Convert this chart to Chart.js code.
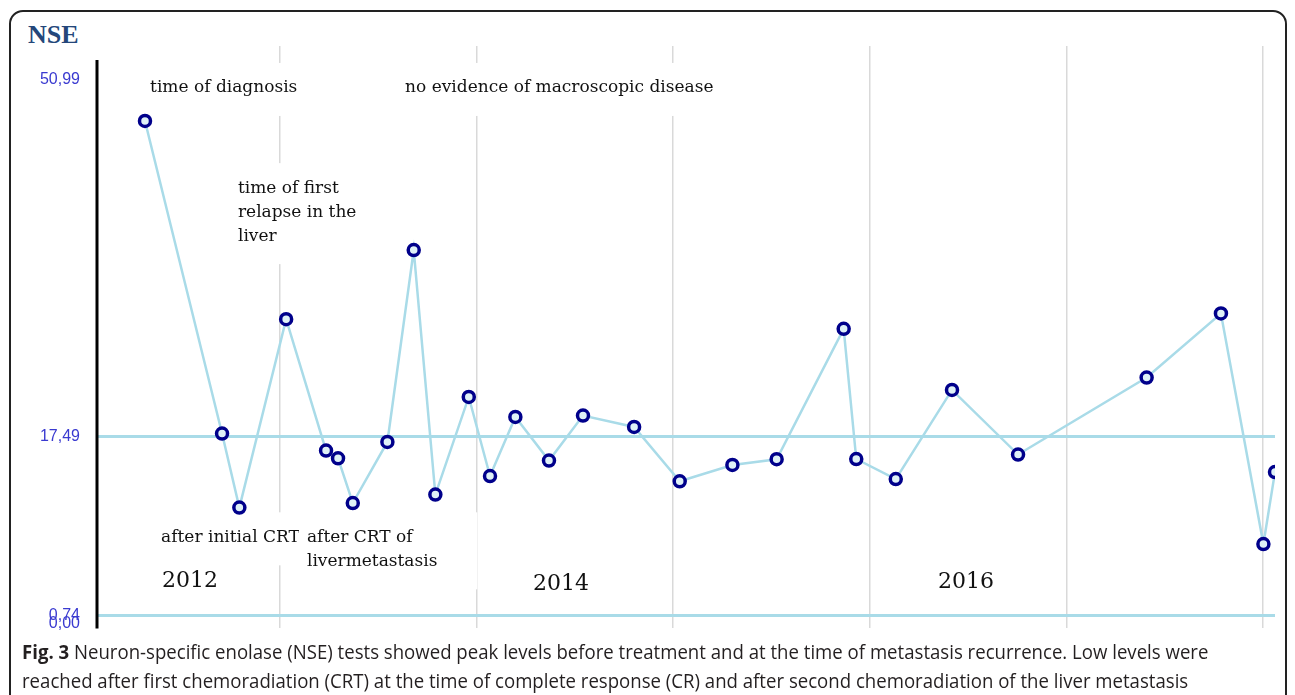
<!DOCTYPE html>
<html>
<head>
<meta charset="utf-8">
<title>NSE</title>
<script src="https://cdn.jsdelivr.net/npm/chart.js@4.4.1/dist/chart.umd.min.js"></script>
<style>
  html, body { margin: 0; padding: 0; background: #fff; }
  body { width: 1295px; height: 695px; position: relative; overflow: hidden; }
  #frame {
    position: absolute; left: 9px; top: 10px; width: 1278px; height: 720px;
    border: 2px solid #222; border-radius: 14px; box-sizing: border-box;
  }
  #title {
    position: absolute; left: 28px; top: 20px;
    font: bold 26px "Liberation Serif", serif; color: #24477a;
  }
  #wrap { position: absolute; left: 0; top: 0; width: 1295px; height: 656px; }
  #caption {
    position: absolute; left: 22px; top: 637px; white-space: nowrap;
    font: 20px "Open Sans", sans-serif; color: #231f20;
    line-height: 29px; transform: scaleX(0.93); transform-origin: left top;
  }
  #caption b { font-weight: bold; }
</style>
</head>
<body>
<div id="frame"></div>
<div id="title">NSE</div>
<div id="wrap"><canvas id="nseChart"></canvas></div>
<div id="caption"><b>Fig. 3</b> Neuron-specific enolase (NSE) tests showed peak levels before treatment and at the time of metastasis recurrence. Low levels were<br>reached after first chemoradiation (CRT) at the time of complete response (CR) and after second chemoradiation of the liver metastasis</div>

<script>
// ==========================================
// DATA (date as decimal year, NSE value)
// ==========================================
const testDates = [
  2012.313, 2012.705, 2012.793, 2013.031, 2013.234, 2013.295, 2013.370,
  2013.546, 2013.680, 2013.790, 2013.960, 2014.068, 2014.197, 2014.368,
  2014.541, 2014.801, 2015.033, 2015.301, 2015.526, 2015.867, 2015.931,
  2016.132, 2016.418, 2016.754, 2017.408, 2017.786, 2018.002, 2018.061
];
const nseValues = [
  47.15, 17.81, 10.86, 28.55, 16.21, 15.49, 11.29,
  17.02, 35.03, 12.08, 21.25, 13.82, 19.37, 15.27,
  19.50, 18.43, 13.33, 14.86, 15.40, 27.64, 15.42,
  13.54, 21.91, 15.84, 23.07, 29.08, 7.44, 14.20
];
const yTickValues = [0, 0.74, 17.49, 50.99];
const refLines = [0.74, 17.49];
const yearGridLines = [2013, 2014, 2015, 2016, 2017, 2018];

// annotation text, anchored at (year, value) of its first line
const notes = [
  { lines: ['time of diagnosis'], x: 2012.339, y: 50.25 },
  { lines: ['no evidence of macroscopic disease'], x: 2013.636, y: 50.25 },
  { lines: ['time of first', 'relapse in the', 'liver'], x: 2012.786, y: 40.85 },
  { lines: ['after initial CRT'], x: 2012.395, y: 8.07 },
  { lines: ['after CRT of', 'livermetastasis'], x: 2013.137, y: 8.07 },
  { lines: ['2012'], x: 2012.400, y: 3.95, big: true },
  { lines: ['2014'], x: 2014.287, y: 3.65, big: true },
  { lines: ['2016'], x: 2016.347, y: 3.84, big: true }
];

// ==========================================
// PLUGINS
// ==========================================
const notesPlugin = {
  id: 'notes',
  beforeDatasetsDraw(chart) {
    const c = chart.ctx;
    const xs = chart.scales.x, ys = chart.scales.y;
    c.save();
    notes.forEach(n => {
      c.font = n.big ? '22px "DejaVu Serif", serif' : '17px "DejaVu Serif", serif';
      const px = xs.getPixelForValue(n.x);
      const py = ys.getPixelForValue(n.y);
      const w = Math.max(...n.lines.map(t => c.measureText(t).width));
      const lh = 24;
      // white box behind the text (hides grid lines like the original)
      c.fillStyle = '#fff';
      c.fillRect(px - 8, py - 25, w + 48, (n.lines.length - 1) * lh + 53);
      c.fillStyle = '#111';
      c.textBaseline = 'middle';
      n.lines.forEach((t, i) => c.fillText(t, px, py + i * lh));
    });
    c.restore();
  }
};

// thick black axis line, starting a little below the top of the plot
const axisLinePlugin = {
  id: 'axisLine',
  afterDraw(chart) {
    const c = chart.ctx, a = chart.chartArea;
    c.save();
    c.strokeStyle = '#000';
    c.lineWidth = 3;
    c.beginPath();
    c.moveTo(a.left - 1, a.top + 14);
    c.lineTo(a.left - 1, a.bottom);
    c.stroke();
    c.restore();
  }
};

// ==========================================
// CHART
// ==========================================
const ctx = document.getElementById('nseChart').getContext('2d');
new Chart(ctx, {
  type: 'line',
  data: {
    datasets: [{
      data: testDates.map((d, i) => ({ x: d, y: nseValues[i] })),
      borderColor: '#a9dbe8',
      borderWidth: 2.5,
      pointRadius: 5.5,
      pointBorderWidth: 3.5,
      pointBorderColor: '#00008b',
      pointBackgroundColor: '#dff1f7',
      tension: 0,
      clip: { left: 10, top: 10, right: 0, bottom: 10 }
    }]
  },
  options: {
    responsive: true,
    maintainAspectRatio: false,
    animation: false,
    layout: { padding: { left: 0, right: 20, top: 46, bottom: 12 } },
    plugins: { legend: { display: false }, tooltip: { enabled: false } },
    scales: {
      x: {
        type: 'linear',
        min: 2012.074,
        max: 2018.061,
        afterBuildTicks: s => { s.ticks = yearGridLines.map(v => ({ value: v })); },
        ticks: { display: false },
        grid: { color: '#d9d9d9', lineWidth: 1.5, drawTicks: false },
        border: { display: false },
        afterFit: s => { s.height = 0; }
      },
      y: {
        min: -0.48,
        max: 54.19,
        afterBuildTicks: s => { s.ticks = yTickValues.map(v => ({ value: v })); },
        afterFit: s => { s.width = 98; },
        ticks: {
          autoSkip: false,
          padding: 18,
          color: '#3a3ad0',
          font: { family: '"Liberation Sans", Arial, sans-serif', size: 16 },
          callback: v => v.toFixed(2).replace('.', ',')
        },
        grid: {
          drawTicks: false,
          color: c => refLines.includes(c.tick.value) ? '#a9dbe8' : 'rgba(0,0,0,0)',
          lineWidth: 3
        },
        border: { display: false }
      }
    }
  },
  plugins: [notesPlugin, axisLinePlugin]
});
</script>
</body>
</html>
